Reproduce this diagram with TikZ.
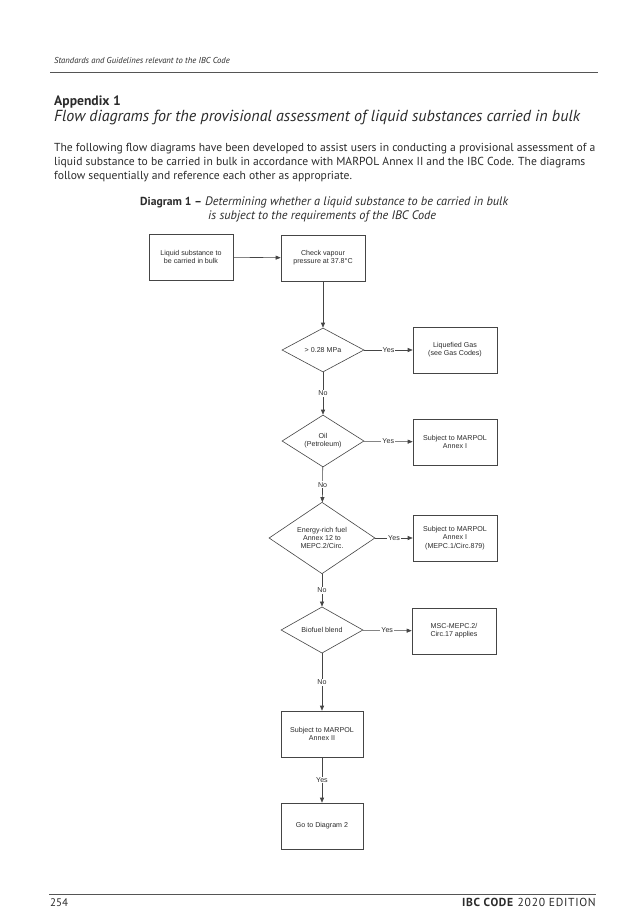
\documentclass[tikz,border=0pt]{standalone}
\usepackage{fontspec}
\setmainfont{PT Sans}
\newfontfamily\diagfont{Liberation Sans}
\usetikzlibrary{shapes.geometric,arrows.meta}
\definecolor{ink}{HTML}{2B2B2B}
\definecolor{dline}{HTML}{454545}
\newcommand{\dfont}{\diagfont\fontsize{7.1}{8.3}\selectfont}
\tikzset{
  txt/.style={anchor=base west, inner sep=0pt, text=ink},
  box/.style={draw=dline, line width=0.6pt, minimum width=84pt, minimum height=46pt,
              align=center, font=\dfont, inner sep=1pt, text=ink},
  dia/.style={draw=dline, line width=0.6pt, diamond, inner sep=0pt, align=center,
              font=\dfont, text=ink},
  conn/.style={draw=dline, line width=0.6pt, -{Triangle[length=5pt,width=4pt]}},
  lbl/.style={fill=white, inner sep=1pt, font=\dfont, text=ink},
  rule/.style={draw=ink!80, line width=0.8pt}
}
\begin{document}
\begin{tikzpicture}[x=1pt,y=-1pt]
\useasboundingbox (0,0) rectangle (641,913);
\fill[white] (0,0) rectangle (641,913);
% header
\node[txt, font=\itshape\fontsize{8.6}{11}\selectfont] (hdr) at (54,63) {Standards and Guidelines relevant to the IBC Code};
\coordinate (hl) at (50,72); \coordinate (hr) at (598,72);
\draw[rule] (hl) -- (hr);
% titles
\node[txt, font=\bfseries\fontsize{13.6}{16}\selectfont] (app) at (54,105) {Appendix 1};
\node[txt, font=\itshape\fontsize{16}{18}\selectfont] (sub) at (54,121) {Flow diagrams for the provisional assessment of liquid substances carried in bulk};
% paragraph
\node[txt, font=\fontsize{11.6}{14}\selectfont] (p1) at (54,151) {The following flow diagrams have been developed to assist users in conducting a provisional assessment of a};
\node[txt, font=\fontsize{11.6}{14}\selectfont] (p2) at (54,165) {liquid substance to be carried in bulk in accordance with MARPOL Annex II and the IBC Code. The diagrams};
\node[txt, font=\fontsize{11.6}{14}\selectfont] (p3) at (54,179) {follow sequentially and reference each other as appropriate.};
% diagram title
\node[txt, font=\fontsize{11.6}{14}\selectfont] (dt1) at (140,205) {\textbf{Diagram 1 –} {\itshape\fontsize{12.3}{14}\selectfont Determining whether a liquid substance to be carried in bulk}};
\node[txt, font=\itshape\fontsize{12.3}{14}\selectfont] (dt2) at (208,219) {is subject to the requirements of the IBC Code};
% flow diagram
\node[box] (A) at (191,257) {Liquid substance to\\be carried in bulk};
\node[box] (B) at (323,258) {Check vapour\\pressure at 37.8°C};
\node[dia, minimum width=82pt, minimum height=44pt] (d1) at (323,350) {> 0.28 MPa};
\node[box] (lg) at (455,350) {Liquefied Gas\\(see Gas Codes)};
\node[dia, minimum width=82pt, minimum height=44pt] (d2) at (323,441) {Oil\\(Petroleum)};
\node[box] (m1) at (455,442) {Subject to MARPOL\\Annex I};
\node[dia, minimum width=106pt, minimum height=56pt] (d3) at (322,538) {Energy-rich fuel\\Annex 12 to\\MEPC.2/Circ.};
\node[box] (m2) at (455,538) {Subject to MARPOL\\Annex I\\(MEPC.1/Circ.879)};
\node[dia, minimum width=82pt, minimum height=44pt] (d4) at (322,630) {Biofuel blend};
\node[box] (bf) at (454,631) {MSC-MEPC.2/\\Circ.17 applies};
\node[box, minimum width=82pt] (m3) at (322,734) {Subject to MARPOL\\Annex II};
\node[box, minimum width=82pt] (g2) at (322,826) {Go to Diagram 2};
\draw[conn] (A) -- (B);
\draw[conn] (B) -- (d1);
\draw[conn] (d1) -- node[lbl] {Yes} (lg);
\draw[conn] (d1) -- node[lbl] {No} (d2);
\draw[conn] (d2) -- node[lbl] {Yes} (m1);
\draw[conn] (d2) -- node[lbl] {No} (d3);
\draw[conn] (d3) -- node[lbl] {Yes} (m2);
\draw[conn] (d3) -- node[lbl] {No} (d4);
\draw[conn] (d4) -- node[lbl] {Yes} (bf);
\draw[conn] (d4) -- node[lbl] {No} (m3);
\draw[conn] (m3) -- node[lbl] {Yes} (g2);
% footer
\coordinate (fl) at (49,894); \coordinate (fr) at (596,894);
\draw[rule] (fl) -- (fr);
\node[txt, font=\fontsize{11}{13}\selectfont] (pg) at (50,906) {254};
\node[anchor=base east, inner sep=0pt, text=ink, font=\fontsize{11.6}{13}\selectfont\addfontfeature{LetterSpace=6}] (ed) at (596,906) {\textbf{IBC CODE} 2020 EDITION};
\end{tikzpicture}
\end{document}
